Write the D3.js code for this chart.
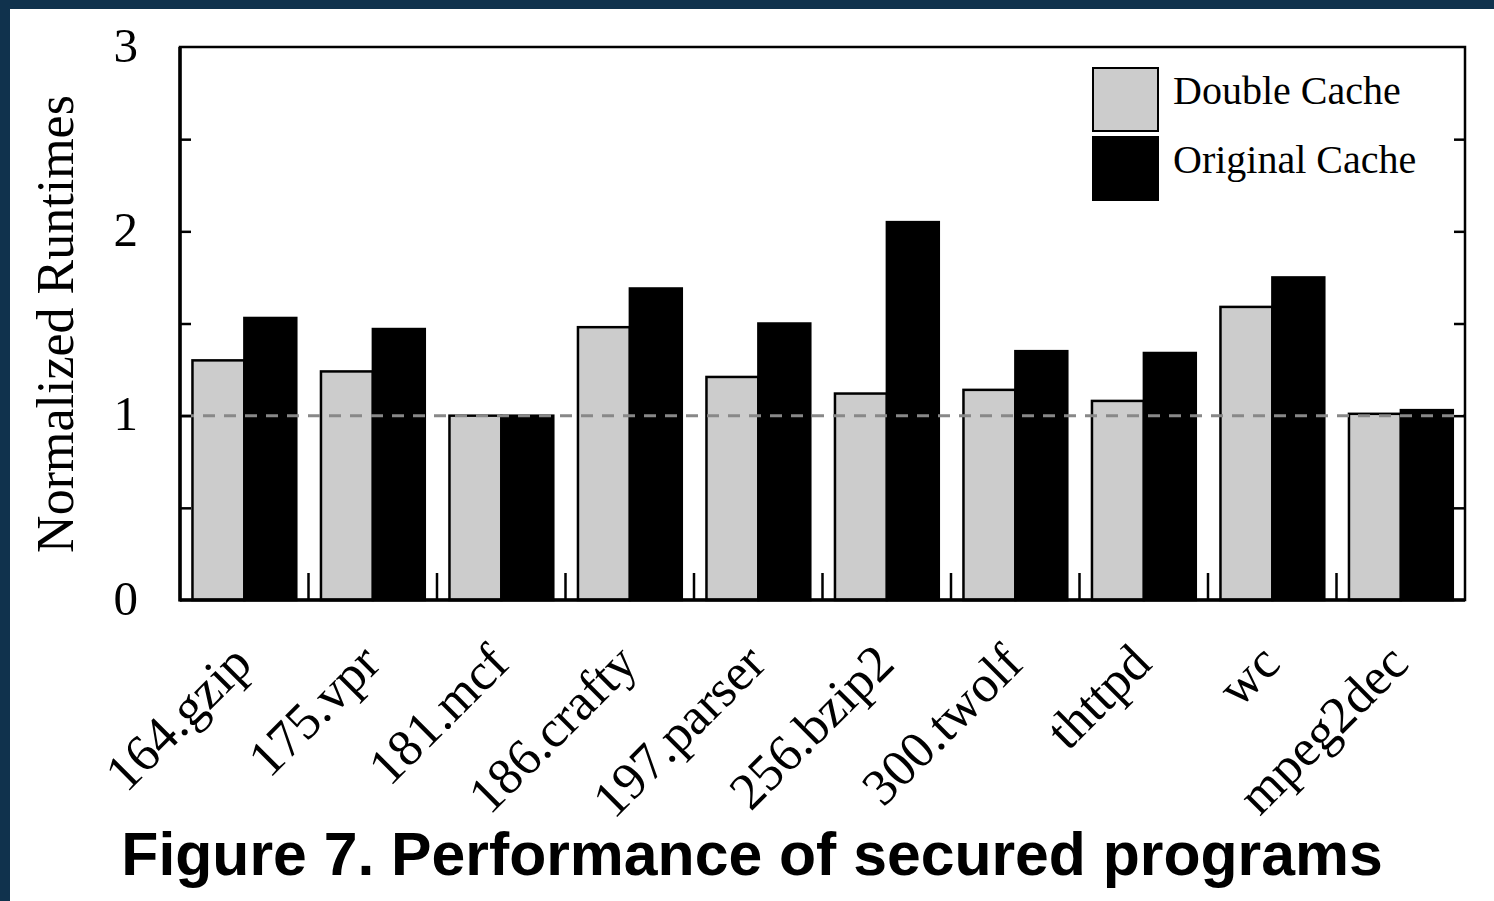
<!DOCTYPE html>
<html>
<head>
<meta charset="utf-8">
<script src="https://cdn.jsdelivr.net/npm/d3@7"></script>
<style>
  html, body { margin: 0; padding: 0; background: #10324d; }
  svg { display: block; }
</style>
</head>
<body>
<svg id="chart" width="1494" height="901"></svg>
<script>
// Benchmarks and normalized runtimes
const categories = ["164.gzip", "175.vpr", "181.mcf", "186.crafty", "197.parser",
                    "256.bzip2", "300.twolf", "thttpd", "wc", "mpeg2dec"];
const seriesNames = ["Double Cache", "Original Cache"];
const doubleCache   = [1.30, 1.24, 1.00, 1.48, 1.21, 1.12, 1.14, 1.08, 1.59, 1.01];
const originalCache = [1.53, 1.47, 1.00, 1.69, 1.50, 2.05, 1.35, 1.34, 1.75, 1.03];
const yTickLabels = [0, 1, 2, 3];
const yMinorTicks = [0.5, 1.5, 2.5];
const baseline = 1;
const title = "Figure 7. Performance of secured programs";
const yTitle = "Normalized Runtimes";

const seriesColors = { "Double Cache": "#cccccc", "Original Cache": "#000000" };

const svg = d3.select("#chart");
const W = 1494, H = 901;

// white page area (dark frame shows on top and left)
svg.append("rect").attr("x", 10).attr("y", 9).attr("width", W - 10).attr("height", H - 9)
  .attr("fill", "#ffffff");

const plot = { left: 180, right: 1465, top: 47, bottom: 600 };
const serif = "'Liberation Serif', 'Times New Roman', serif";

const x0 = d3.scaleBand().domain(categories).range([plot.left, plot.right]).padding(0);
const bw = x0.bandwidth();
const x1 = d3.scaleBand().domain(seriesNames).range([bw * 0.097, bw * 0.905]).padding(0);
const y = d3.scaleLinear().domain([0, 3]).range([plot.bottom, plot.top]);

const rows = categories.map((c, i) => ({
  cat: c,
  values: [
    { series: "Double Cache", v: doubleCache[i] },
    { series: "Original Cache", v: originalCache[i] }
  ]
}));

// bars
const groups = svg.append("g").selectAll("g").data(rows).join("g")
  .attr("transform", d => `translate(${x0(d.cat)},0)`);
groups.selectAll("rect").data(d => d.values).join("rect")
  .attr("x", d => x1(d.series))
  .attr("width", x1.bandwidth())
  .attr("y", d => y(d.v))
  .attr("height", d => y(0) - y(d.v))
  .attr("fill", d => seriesColors[d.series])
  .attr("stroke", "#000")
  .attr("stroke-width", 2.5);

// reference line at 1.0
svg.append("line")
  .attr("x1", plot.left).attr("x2", plot.right)
  .attr("y1", y(baseline)).attr("y2", y(baseline))
  .attr("stroke", "#888888").attr("stroke-width", 3)
  .attr("stroke-dasharray", "12,9").attr("stroke-dashoffset", -2);

// frame
svg.append("rect")
  .attr("x", plot.left).attr("y", plot.top)
  .attr("width", plot.right - plot.left).attr("height", plot.bottom - plot.top)
  .attr("fill", "none").attr("stroke", "#000").attr("stroke-width", 2.5);
svg.append("line").attr("x1", plot.left).attr("x2", plot.left)
  .attr("y1", plot.top).attr("y2", plot.bottom + 1.5).attr("stroke", "#000").attr("stroke-width", 3.5);
svg.append("line").attr("x1", plot.left).attr("x2", plot.right)
  .attr("y1", plot.bottom).attr("y2", plot.bottom).attr("stroke", "#000").attr("stroke-width", 3.5);

// y ticks, inward on both sides
const yTickVals = yTickLabels.concat(yMinorTicks).filter(v => v > 0 && v < 3);
const leftAxis = d3.axisLeft(y).tickValues(yTickVals).tickSize(-11).tickFormat("");
const rightAxis = d3.axisRight(y).tickValues(yTickVals).tickSize(-11).tickFormat("");
svg.append("g").attr("transform", `translate(${plot.left},0)`).call(leftAxis)
  .call(g => g.select(".domain").remove())
  .call(g => g.selectAll("line").attr("stroke", "#000").attr("stroke-width", 2.5));
svg.append("g").attr("transform", `translate(${plot.right},0)`).call(rightAxis)
  .call(g => g.select(".domain").remove())
  .call(g => g.selectAll("line").attr("stroke", "#000").attr("stroke-width", 2.5));

// y tick labels
svg.append("g").selectAll("text").data(yTickLabels).join("text")
  .attr("x", 138).attr("y", d => y(d) - 2)
  .attr("text-anchor", "end").attr("dominant-baseline", "central")
  .attr("font-family", serif).attr("font-size", 49).attr("fill", "#000")
  .text(d => d);

// x ticks at group boundaries
const bounds = categories.slice(0, -1).map(c => x0(c) + bw);
svg.append("g").selectAll("line").data(bounds).join("line")
  .attr("x1", d => d).attr("x2", d => d)
  .attr("y1", plot.bottom).attr("y2", plot.bottom - 27)
  .attr("stroke", "#000").attr("stroke-width", 2.5);

// x labels, rotated
svg.append("g").selectAll("text").data(categories).join("text")
  .attr("transform", d => `translate(${x0(d) + bw / 2 + 10},${666}) rotate(-45)`)
  .attr("text-anchor", "end")
  .attr("font-family", serif).attr("font-size", 52).attr("fill", "#000")
  .text(d => d);

// y axis title
svg.append("text")
  .attr("transform", `translate(73,${(95 + 553) / 2}) rotate(-90)`)
  .attr("text-anchor", "middle")
  .attr("font-family", serif).attr("font-size", 52).attr("fill", "#000")
  .text(yTitle);

// legend
const legend = svg.append("g").attr("transform", "translate(1093,68)");
const li = legend.selectAll("g").data(seriesNames).join("g")
  .attr("transform", (d, i) => `translate(0,${i * 69})`);
li.append("rect").attr("width", 65).attr("height", 63)
  .attr("fill", d => seriesColors[d]).attr("stroke", "#000").attr("stroke-width", 2);
li.append("text").attr("x", 80).attr("y", 36)
  .attr("font-family", serif).attr("font-size", 40).attr("fill", "#000")
  .text(d => d);

// caption
svg.append("text")
  .attr("x", 752).attr("y", 875).attr("text-anchor", "middle")
  .attr("font-family", "'Liberation Sans', Arial, sans-serif")
  .attr("font-weight", "bold").attr("font-size", 60.7).attr("fill", "#000")
  .text(title);
</script>
</body>
</html>
